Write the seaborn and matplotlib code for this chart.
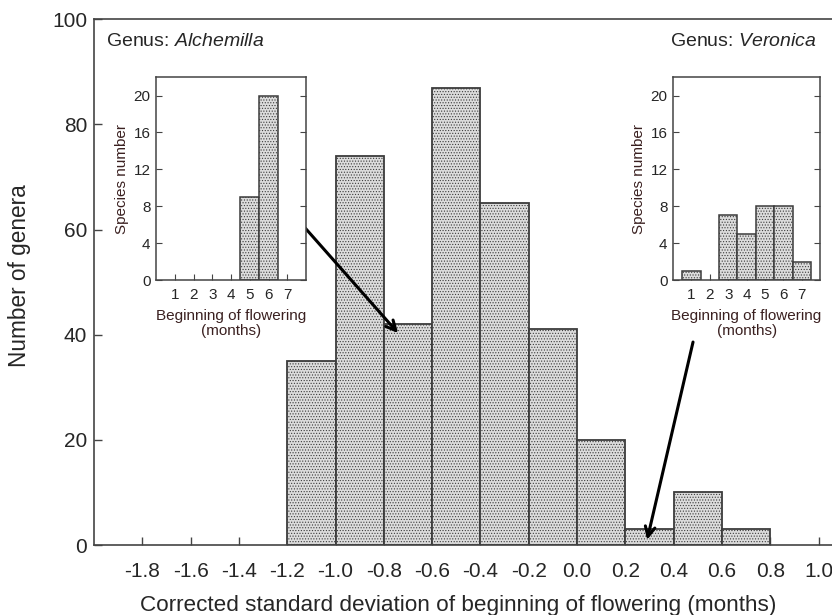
import matplotlib
matplotlib.use("Agg")
import matplotlib.pyplot as plt
import seaborn as sns

# main histogram: corrected SD of beginning of flowering
bin_edges = [-1.2, -1.0, -0.8, -0.6, -0.4, -0.2, 0.0, 0.2, 0.4, 0.6, 0.8]
genera_counts = [35, 74, 42, 87, 65, 41, 20, 3, 10, 3]
main_xticks = [-1.8, -1.6, -1.4, -1.2, -1.0, -0.8, -0.6, -0.4, -0.2, 0.0, 0.2, 0.4, 0.6, 0.8, 1.0]
main_yticks = [0, 20, 40, 60, 80, 100]

# insets: species number by month of beginning of flowering
months = [1, 2, 3, 4, 5, 6, 7]
alchemilla_counts = [0, 0, 0, 0, 9, 20, 0]
veronica_counts = [1, 0, 7, 5, 8, 8, 2]
inset_yticks = [0, 4, 8, 12, 16, 20]

sns.set_style("white")
plt.rcParams["font.family"] = ["Liberation Sans", "DejaVu Sans"]
plt.rcParams["mathtext.fontset"] = "custom"
plt.rcParams["mathtext.rm"] = "Liberation Sans"
plt.rcParams["mathtext.it"] = "Liberation Sans:italic"
plt.rcParams["hatch.linewidth"] = 0.5

FACE = "#dcdcdc"
EDGE = "#3c3c3c"


def style_bars(ax, lw):
    for p in ax.patches:
        p.set_facecolor(FACE)
        p.set_edgecolor(EDGE)
        p.set_linewidth(lw)
        p.set_hatch("......")


fig = plt.figure(figsize=(8.32, 6.15), dpi=100)

# main axes runs past the right edge of the figure, as in the original
ax = fig.add_axes([0.113, 0.1138, 0.929, 0.855])
centers = [(a + b) / 2 for a, b in zip(bin_edges[:-1], bin_edges[1:])]
sns.histplot(x=centers, weights=genera_counts, bins=bin_edges, ax=ax,
             stat="count", element="bars", fill=True)
style_bars(ax, 1.3)
ax.set_xlim(-2.0, 1.2)
ax.set_ylim(0, 100)
ax.set_xticks(main_xticks)
ax.set_xticklabels([f"{v:.1f}" for v in main_xticks])
ax.set_yticks(main_yticks)
ax.tick_params(axis="both", direction="in", length=6, width=1, labelsize=15,
               color="#444444", bottom=True, left=True)
ax.tick_params(axis="x", pad=12)
ax.tick_params(axis="y", pad=5)
for s in ax.spines.values():
    s.set_color("#444444")
    s.set_linewidth(1.2)
ax.spines["right"].set_visible(False)
ax.set_xlabel("Corrected standard deviation of beginning of flowering (months)",
              fontsize=16.2)
ax.xaxis.set_label_coords(0.471, -0.096)
ax.set_ylabel("Number of genera", fontsize=16.3)
ax.yaxis.set_label_coords(-0.0815, 0.513)

fig.text(0.128, 0.932, r"Genus: $\it{Alchemilla}$", fontsize=14, ha="left", va="center")
fig.text(0.982, 0.932, r"Genus: $\it{Veronica}$", fontsize=14, ha="right", va="center")


def draw_inset(rect, counts):
    ia = fig.add_axes(rect)
    sns.histplot(x=months, weights=counts, discrete=True, ax=ia,
                 stat="count", element="bars", fill=True)
    style_bars(ia, 1.1)
    for p in ia.patches:
        if p.get_height() == 0:
            p.set_visible(False)
    ia.set_xlim(0, 8)
    ia.set_ylim(0, 22)
    ia.set_xticks(months)
    ia.set_yticks(inset_yticks)
    ia.tick_params(axis="both", direction="in", length=4, width=0.8,
                   labelsize=11, pad=4, color="#444444",
                   bottom=True, left=True)
    ia.tick_params(axis="x", pad=6)
    ia.tick_params(axis="y", right=True, labelright=False)
    for s in ia.spines.values():
        s.set_color("#444444")
        s.set_linewidth(1.1)
    ia.set_xlabel("Beginning of flowering\n(months)", fontsize=11, labelpad=5,
                  color="#3a2020", linespacing=1.05)
    ia.set_ylabel("Species number", fontsize=11, labelpad=3, color="#3a2020")
    return ia


draw_inset([0.1875, 0.5447, 0.1803, 0.330], alchemilla_counts)
draw_inset([0.809, 0.5447, 0.1767, 0.330], veronica_counts)

arrow = dict(arrowstyle="->,head_length=0.7,head_width=0.35", lw=2.2, color="black",
             shrinkA=0, shrinkB=0)
ax.annotate("", xy=(-0.741, 40.3), xytext=(-1.126, 60.3), arrowprops=arrow)
ax.annotate("", xy=(0.290, 1.0), xytext=(0.480, 38.6), arrowprops=arrow)

fig.savefig("out.png", dpi=100)
